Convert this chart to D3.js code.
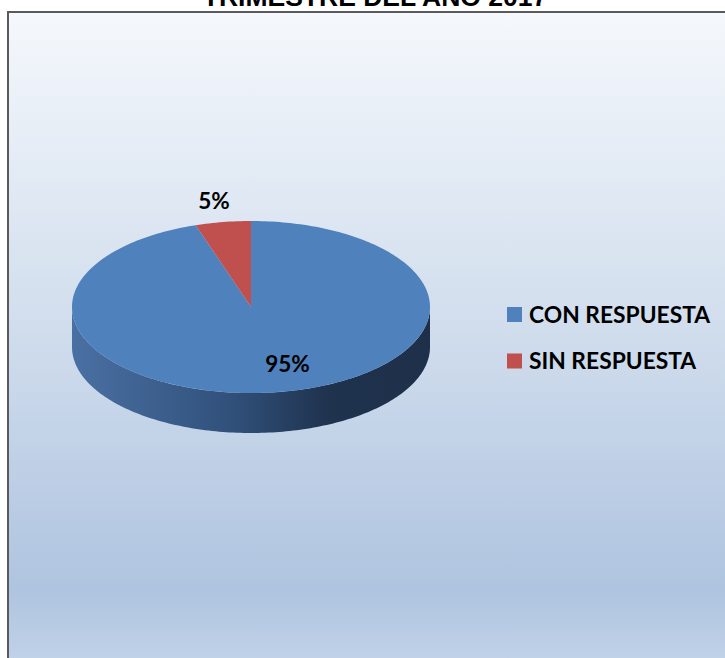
<!DOCTYPE html>
<html><head><meta charset="utf-8">
<script src="https://cdn.jsdelivr.net/npm/d3@7/dist/d3.min.js"></script>
<style>html,body{margin:0;padding:0;background:#fff;overflow:hidden}</style>
</head><body>
<svg id="c" width="725" height="658"></svg>
<script>
const categories = ["CON RESPUESTA", "SIN RESPUESTA"];
const values = [95, 5];
const labels = ["95%", "5%"];
const colors = ["#4f81bd", "#c0504d"];
const title = "TRIMESTRE DEL AÑO 2017";

const W = 725, H = 658;
const svg = d3.select("#c");
const defs = svg.append("defs");

const bg = defs.append("linearGradient").attr("id","bg").attr("x1",0).attr("y1",0).attr("x2",0).attr("y2",1);
[[0,"#f5f8fc"],[0.45,"#d3dfee"],[0.88,"#afc4e0"],[1,"#c3d4e9"]].forEach(s=>bg.append("stop").attr("offset",s[0]).attr("stop-color",s[1]));

const side = defs.append("linearGradient").attr("id","side").attr("x1",0).attr("y1",0).attr("x2",1).attr("y2",0);
[[0,"#4a70a3"],[0.45,"#30507a"],[0.72,"#1f324e"],[1,"#1e3049"]].forEach(s=>side.append("stop").attr("offset",s[0]).attr("stop-color",s[1]));

svg.append("rect").attr("width",W).attr("height",H).attr("fill","#fff");
svg.append("rect").attr("x",8).attr("y",12).attr("width",W).attr("height",H).attr("fill","url(#bg)");
svg.append("path").attr("d",`M8,${H}V12H${W}`).attr("fill","none").attr("stroke","#5a5a5a").attr("stroke-width",2);

svg.append("text").attr("x",375).attr("y",6).attr("text-anchor","middle")
  .attr("font-family","Liberation Sans, Arial, sans-serif").attr("font-weight","bold").attr("font-size",26.5)
  .attr("fill","#000").text(title);

const cx = 251, cy = 307, rx = 179, ry = 86, depth = 40;
const pie = d3.pie().sort(null).value(d=>d)(values);
const px = a => cx + rx*Math.sin(a), py = a => cy - ry*Math.cos(a);

function arcPath(a0,a1,dy){
  const steps = Math.max(2, Math.ceil((a1-a0)/0.02));
  const pts = d3.range(steps+1).map(i=>a0+(a1-a0)*i/steps);
  return pts.map((a,i)=>(i?"L":"M")+px(a)+","+(py(a)+dy)).join("");
}

side.attr("gradientUnits","userSpaceOnUse").attr("x1",cx-rx).attr("x2",cx+rx).attr("y1",0).attr("y2",0);
const sideG = svg.append("g");
pie.forEach((d,i)=>{
  const a0 = Math.max(d.startAngle, Math.PI/2), a1 = Math.min(d.endAngle, 3*Math.PI/2);
  if (a1 <= a0) return;
  const steps = Math.ceil((a1-a0)/0.02);
  const pts = d3.range(steps+1).map(k=>a0+(a1-a0)*k/steps);
  let p = pts.map((a,k)=>(k?"L":"M")+px(a)+","+py(a)).join("");
  p += pts.slice().reverse().map(a=>"L"+px(a)+","+(py(a)+depth)).join("") + "Z";
  sideG.append("path").attr("d",p).attr("fill", i===0 ? "url(#side)" : d3.color(colors[i]).darker(1.2));
});

const topG = svg.append("g");
pie.forEach((d,i)=>{
  const p = `M${cx},${cy}L` + arcPath(d.startAngle,d.endAngle,0).slice(1) + "Z";
  topG.append("path").attr("d",p).attr("fill",colors[i]);
});

const labelF = [{fx:1.3, fy:0.67},{fx:1.32, fy:1.25}];
svg.append("g").selectAll("text").data(pie).join("text")
  .attr("x",(d,i)=>{const m=(d.startAngle+d.endAngle)/2; return cx + rx*labelF[i].fx*Math.sin(m);})
  .attr("y",(d,i)=>{const m=(d.startAngle+d.endAngle)/2; return cy - ry*labelF[i].fy*Math.cos(m);})
  .attr("dy","0.36em").attr("text-anchor","middle")
  .attr("font-family","Lato, sans-serif").attr("font-weight","bold").attr("font-size",22.5)
  .attr("fill","#000").text((d,i)=>labels[i]);

const legY = d3.scalePoint().domain(categories).range([314.5, 361]);
const leg = svg.append("g").selectAll("g").data(categories).join("g")
  .attr("transform",d=>`translate(507,${legY(d)})`);
leg.append("rect").attr("x",0).attr("y",-7.5).attr("width",15).attr("height",15).attr("fill",(d,i)=>colors[i]);
leg.append("text").attr("x",22).attr("y",0).attr("dy","0.36em")
  .attr("font-family","Lato, sans-serif").attr("font-weight","bold").attr("font-size",22.8)
  .attr("fill","#000").text(d=>d);
</script>
</body></html>
